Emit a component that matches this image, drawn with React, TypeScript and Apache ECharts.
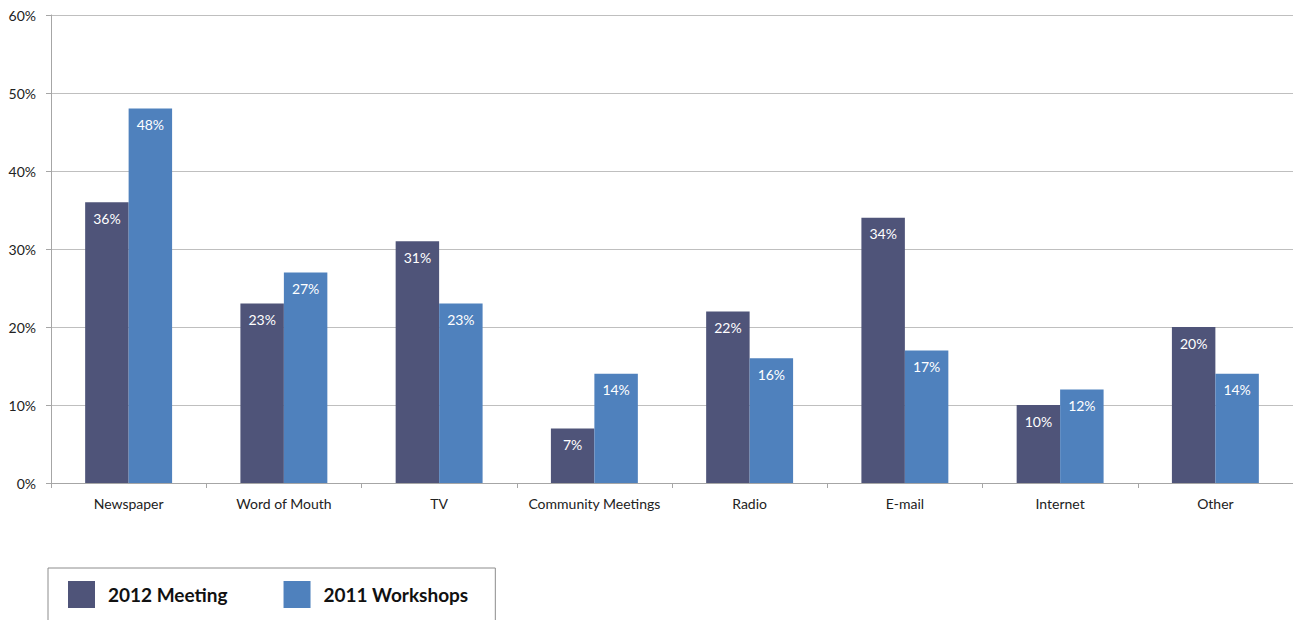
import React, { useEffect, useRef } from "react";
import * as echarts from "echarts";

const categories = ["Newspaper", "Word of Mouth", "TV", "Community Meetings", "Radio", "E-mail", "Internet", "Other"];
const meeting2012 = [36, 23, 31, 7, 22, 34, 10, 20];
const workshops2011 = [48, 27, 23, 14, 16, 17, 12, 14];
const seriesNames = ["2012 Meeting", "2011 Workshops"];

const FONT = "Lato, 'Open Sans', sans-serif";

export default function App() {
  const ref = useRef<HTMLDivElement>(null);
  useEffect(() => {
    document.body.style.margin = "0";
    const chart = echarts.init(ref.current!, null, { renderer: "svg" });
    const label = {
      show: true,
      position: "insideTop",
      distance: 9,
      color: "#ffffff",
      fontSize: 14,
      fontFamily: FONT,
      formatter: (p: any) => p.value + "%",
    };
    chart.setOption({
      animation: false,
      textStyle: { fontFamily: FONT },
      grid: { left: 51, right: 0, top: 15, bottom: 137, containLabel: false },
      legend: {
        left: 48,
        top: 568,
        orient: "horizontal",
        itemWidth: 27,
        itemHeight: 27,
        itemGap: 56,
        padding: [13, 27, 13, 20],
        borderColor: "#8c8c8c",
        borderWidth: 1,
        icon: "rect",
        textStyle: {
          fontSize: 19,
          fontWeight: "bold",
          color: "#111111",
          fontFamily: FONT,
          padding: [0, 0, 0, 8],
        },
        data: seriesNames,
      },
      xAxis: {
        type: "category",
        data: categories,
        axisLine: { lineStyle: { color: "#a6a6a6" } },
        axisTick: { show: true, length: 5, alignWithLabel: false, lineStyle: { color: "#a6a6a6" } },
        axisLabel: { color: "#222222", fontSize: 14, margin: 13, fontFamily: FONT, interval: 0 },
      },
      yAxis: {
        type: "value",
        min: 0,
        max: 60,
        interval: 10,
        axisLine: { show: true, lineStyle: { color: "#a6a6a6" } },
        axisTick: { show: true, length: 5, lineStyle: { color: "#a6a6a6" } },
        splitLine: { lineStyle: { color: "#bfbfbf" } },
        axisLabel: { color: "#222222", fontSize: 14, margin: 15, fontFamily: FONT, formatter: "{value}%" },
      },
      series: [
        {
          name: seriesNames[0],
          type: "bar",
          data: meeting2012,
          barGap: "0%",
          barCategoryGap: "44%",
          itemStyle: { color: "#4f5479" },
          label,
        },
        {
          name: seriesNames[1],
          type: "bar",
          data: workshops2011,
          barGap: "0%",
          barCategoryGap: "44%",
          itemStyle: { color: "#4f81bd" },
          label,
        },
      ],
    });
    return () => chart.dispose();
  }, []);
  return <div ref={ref} style={{ width: 1293, height: 620 }} />;
}
